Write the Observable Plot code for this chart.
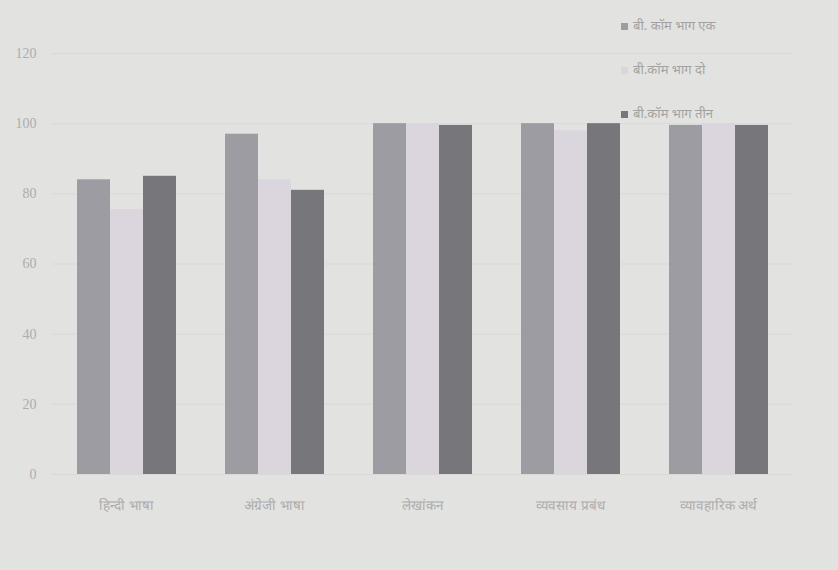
<!DOCTYPE html>
<html>
<head>
<meta charset="utf-8">
<script src="https://cdn.jsdelivr.net/npm/d3@7"></script>
<script src="https://cdn.jsdelivr.net/npm/@observablehq/plot@0.6"></script>
<style>
  html, body { margin: 0; padding: 0; background: #e2e2e0; }
  #wrap { position: relative; width: 838px; height: 570px; overflow: hidden; background: #e2e2e0; }
  #legend { position: absolute; left: 621px; top: 16px; font-family: "Noto Sans", "DejaVu Sans", sans-serif; font-size: 13px; color: #a2a2a2; }
  #legend .item { height: 44px; display: flex; align-items: flex-start; }
  #legend .sw { width: 7px; height: 7px; margin-right: 5px; margin-top: 7px; display: inline-block; }
  g[aria-label="y-axis tick label"] { font-size: 14px; }
  g[aria-label="fx-axis tick label"] { font-size: 13.5px; }
</style>
</head>
<body>
<div id="wrap">
  <div id="chart"></div>
  <div id="legend"></div>
</div>
<script>
const subjects = ["हिन्दी भाषा", "अंग्रेजी भाषा", "लेखांकन", "व्यवसाय प्रबंध", "व्यावहारिक अर्थ"];
const series = ["बी. कॉम भाग एक", "बी.कॉम भाग दो", "बी.कॉम भाग तीन"];
const partOne = [84, 97, 100, 100, 99.5];
const partTwo = [75.5, 84, 100, 98, 100];
const partThree = [85, 81, 99.5, 100, 99.5];
const yTicks = [0, 20, 40, 60, 80, 100, 120];
const colors = ["#9d9ca3", "#dbd6de", "#77767b"];

const seriesValues = [partOne, partTwo, partThree];
const data = subjects.flatMap((s, i) => series.map((k, j) => ({subject: s, series: k, value: seriesValues[j][i]})));

const chart = Plot.plot({
  width: 838,
  height: 570,
  marginLeft: 52,
  marginRight: 46,
  marginTop: 53,
  marginBottom: 96,
  style: {background: "transparent", color: "#adadad", fontSize: "13px", fontFamily: "'Liberation Serif', 'DejaVu Serif', serif"},
  fx: {domain: subjects, padding: 0, label: null, axis: "bottom", tickSize: 0, tickPadding: 26},
  x: {domain: series, axis: null, paddingInner: 0, paddingOuter: 0.74},
  y: {domain: [0, 120], ticks: yTicks, label: null, tickSize: 0, tickPadding: 16},
  color: {domain: series, range: colors},
  marks: [
    Plot.gridY(yTicks, {stroke: "#cdcdcd", strokeOpacity: 0.4}),
    Plot.barY(data, {fx: "subject", x: "series", y: "value", fill: "series"})
  ]
});
document.getElementById("chart").appendChild(chart);

const legend = document.getElementById("legend");
series.forEach((s, i) => {
  const item = document.createElement("div");
  item.className = "item";
  const sw = document.createElement("span");
  sw.className = "sw";
  sw.style.background = colors[i];
  const t = document.createElement("span");
  t.textContent = s;
  item.appendChild(sw);
  item.appendChild(t);
  legend.appendChild(item);
});
</script>
</body>
</html>
